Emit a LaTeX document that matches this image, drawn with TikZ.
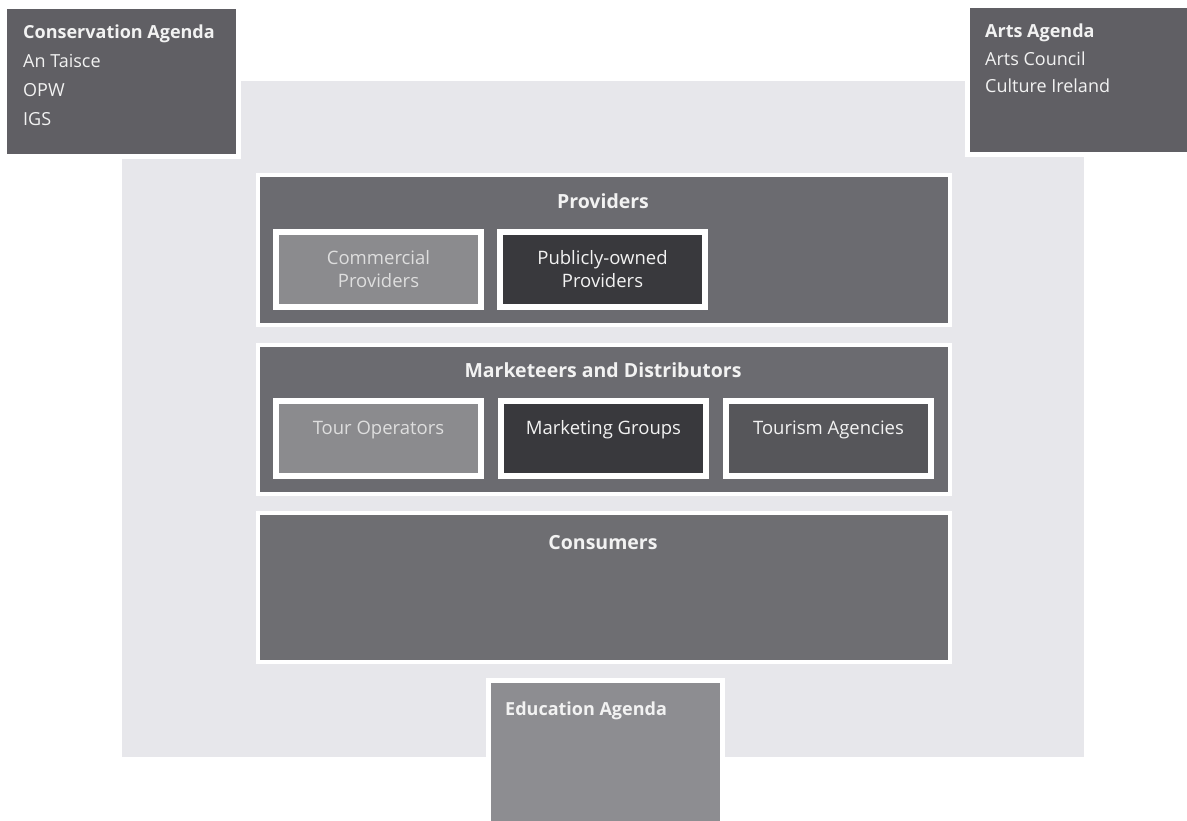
\documentclass[tikz,border=0pt]{standalone}
\usepackage{fontspec}
\setmainfont{Open Sans}
\definecolor{agendaC}{HTML}{605F64}
\definecolor{sectionC}{HTML}{6B6B70}
\definecolor{consC}{HTML}{6E6E72}
\definecolor{lightSubC}{HTML}{8B8B8E}
\definecolor{darkSubC}{HTML}{39393D}
\definecolor{midSubC}{HTML}{56565A}
\definecolor{eduC}{HTML}{8D8D91}
\definecolor{panelC}{HTML}{E7E7EB}
\definecolor{textC}{HTML}{F2F2F2}
\definecolor{softTextC}{HTML}{DEDEDE}
\tikzset{
  box/.style={rectangle, inner sep=0pt, outer sep=0pt, anchor=north west},
  agendabox/.style={box, draw=white, line width=5pt},
  sectionbox/.style={box, draw=white, line width=4pt, fill=sectionC},
  subbox/.style={box, draw=white, line width=6pt, minimum width=205pt, minimum height=75pt,
     align=center, text=textC, font=\fontsize{18.5}{23}\selectfont},
  single/.style={text height=13pt, text depth=21pt},
  agendatitle/.style={anchor=base west, inner sep=0pt, text=textC, font=\bfseries\fontsize{18}{20}\selectfont},
  agendaitem/.style={anchor=base west, inner sep=0pt, text=textC, font=\fontsize{18}{20}\selectfont},
  sectiontitle/.style={anchor=base, inner sep=0pt, text=textC, font=\bfseries\fontsize{19.5}{22}\selectfont}
}
\begin{document}
\begin{tikzpicture}[x=1pt,y=-1pt]
\useasboundingbox (0,0) rectangle (1187,821);
\fill[white] (0,0) rectangle (1187,821);
% light panel
\node[box, fill=panelC, minimum width=962pt, minimum height=676pt] (panel) at (122,81) {};
% agenda boxes
\node[agendabox, fill=agendaC, minimum width=234pt, minimum height=150pt] (cons) at (4.5,6.5) {};
\node[agendabox, fill=agendaC, minimum width=240pt, minimum height=149pt] (arts) at (967.5,5.5) {};
\node[agendabox, fill=eduC, minimum width=234pt, minimum height=160pt] (edu) at (488.5,680.5) {};
% agenda texts
\node[agendatitle] (consT) at (23,39) {Conservation Agenda};
\node[agendaitem] (cons1) at (23,68) {An Taisce};
\node[agendaitem] (cons2) at (23,97) {OPW};
\node[agendaitem] (cons3) at (23,126) {IGS};
\node[agendatitle] (artsT) at (985,38) {Arts Agenda};
\node[agendaitem] (arts1) at (985,65.5) {Arts Council};
\node[agendaitem] (arts2) at (985,93) {Culture Ireland};
\node[agendatitle] (eduT) at (505,715) {Education Agenda};
% sections
\node[sectionbox, minimum width=692pt, minimum height=150pt] (prov) at (258,175) {};
\node[sectionbox, minimum width=692pt, minimum height=149pt] (mark) at (258,345) {};
\node[sectionbox, fill=consC, minimum width=692pt, minimum height=149pt] (consu) at (258,513) {};
\node[sectiontitle] (provT) at (603,209) {Providers};
\node[sectiontitle] (markT) at (603,377) {Marketeers and Distributors};
\node[sectiontitle] (consuT) at (603,549) {Consumers};
% sub boxes
\node[subbox, fill=lightSubC, text=softTextC] (comm) at (276,232) {Commercial\\Providers};
\node[subbox, fill=darkSubC] (pub) at (500,232) {Publicly-owned\\Providers};
\node[subbox, single, fill=lightSubC, text=softTextC] (tour) at (276,401) {Tour Operators};
\node[subbox, single, fill=darkSubC] (mgrp) at (501,401) {Marketing Groups};
\node[subbox, single, fill=midSubC] (tagen) at (726,401) {Tourism Agencies};
\end{tikzpicture}
\end{document}
